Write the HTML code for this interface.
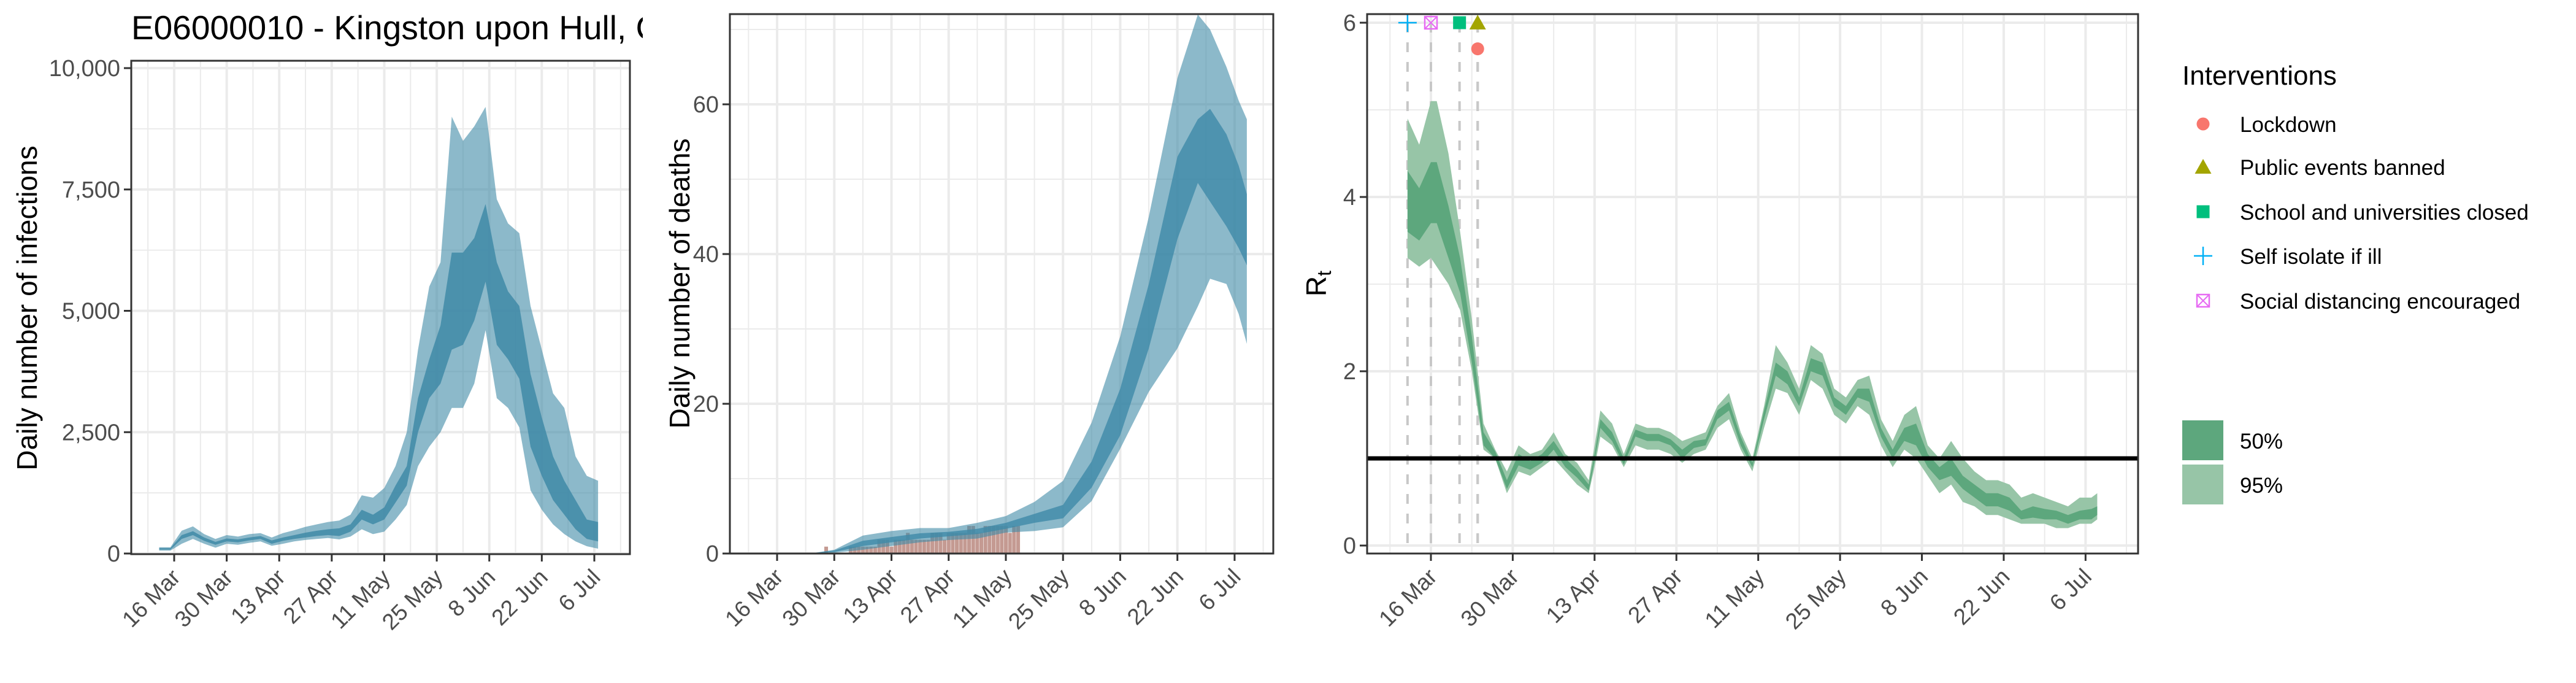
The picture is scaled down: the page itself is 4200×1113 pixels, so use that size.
<!DOCTYPE html>
<html><head><meta charset="utf-8">
<style>
html,body{margin:0;padding:0;background:#fff;}
svg{display:block;font-family:"Liberation Sans",Arial,sans-serif;}
</style></head>
<body>
<svg id="chart" width="4200" height="1113" viewBox="0 0 4200 1113" xmlns="http://www.w3.org/2000/svg">
<rect x="0" y="0" width="4200" height="1113" fill="#fff"/>
<g id="p1"></g>
<g id="p2"></g>
<g id="p3"></g>
<g id="legend"></g>
</svg>
<script>
// ---------- data ----------
var dateTickLabels = ["16 Mar","30 Mar","13 Apr","27 Apr","11 May","25 May","8 Jun","22 Jun","6 Jul"];
var dateTickDays = [0,14,28,42,56,70,84,98,112];

// infections (days from 16 Mar)
var infDays  = [-4,-1,2,5,8,11,14,17,20,23,26,29,32,35,38,41,44,47,50,53,56,59,62,65,68,71,74,77,80,83,86,89,92,95,98,101,104,107,110,113];
var infLo95  = [60,60,200,300,200,120,200,180,220,250,160,200,250,280,300,320,290,350,500,400,450,700,1000,1800,2200,2500,3000,3000,3500,4600,3200,3000,2600,1300,900,600,400,250,150,100];
var infLo50  = [80,80,300,380,260,180,250,230,270,300,200,260,300,330,360,380,360,450,700,600,700,1050,1400,2500,3200,3500,4200,4300,4800,5600,4300,4000,3600,2200,1600,1100,800,500,300,250];
var infHi50  = [110,110,380,460,330,240,310,290,330,360,270,330,380,430,470,500,520,600,900,800,950,1400,1800,3200,4000,4700,6200,6200,6500,7200,6000,5400,5100,3700,2800,2000,1500,1100,700,650];
var infHi95  = [130,130,470,560,400,300,380,350,400,420,330,420,480,550,600,650,680,800,1200,1150,1350,1800,2500,4200,5500,6000,9000,8500,8800,9200,7300,6800,6600,5100,4200,3300,3000,2000,1600,1500];
var infTicks = [0,2500,5000,7500,10000];
var infTickLabels = ["0","2,500","5,000","7,500","10,000"];

// deaths
var dDays  = [8,14,21,28,35,42,49,56,63,70,77,84,91,98,103,106,110,113,115];
var dLo95  = [0,0.1,0.5,1.0,1.5,1.8,2.0,2.8,3.0,3.5,7.0,14,21.6,27.4,33,36.7,36,32,28];
var dLo50  = [0,0.2,1.0,1.5,2.0,2.3,2.6,3.3,4.1,4.7,8.8,15.8,27.4,42,49.5,47,43.7,40.8,38.5];
var dHi50  = [0,0.4,1.7,2.2,2.7,2.9,3.3,4.1,5.3,6.5,12.3,22,36,53,58,59.4,56,51.8,48];
var dHi95  = [0,0.5,2.4,3.0,3.4,3.4,4.1,5.0,6.9,9.7,17.5,29,45,63.5,72,70,65,60.5,58];
var obsDays = [12,18,19,20,21,22,23,24,25,26,27,28,29,30,31,32,33,34,35,36,37,38,39,40,41,42,43,44,45,46,47,48,49,50,51,52,53,54,55,56,57,58,59];
var obsDeaths = [1,1,1,1,1,1,1,1,2,2,2,1,2,2,2,3,2,2,2,2,2,3,3,3,2,3,3,3,3,3,4,4,3,3,4,4,4,4,4,4,3,4,4];
var dTicks = [0,20,40,60];
var dTickLabels = ["0","20","40","60"];

// Rt
var rDays = [-4,-2,0,1,3,5,7,9,11,13,15,17,19,21,23,25,27,28,29,31,33,35,37,39,41,43,45,47,49,51,53,55,57,59,61,63,65,67,69,71,73,75,77,79,81,83,85,87,89,91,93,95,97,99,101,103,105,107,109,111,113,114];
var rLo95 = [3.3,3.2,3.3,3.2,3.0,2.7,2.0,1.1,1.0,0.6,0.85,0.8,0.9,1.0,0.85,0.7,0.6,0.9,1.25,1.15,0.9,1.15,1.1,1.1,1.05,0.95,1.05,1.1,1.35,1.45,1.1,0.85,1.35,1.8,1.75,1.5,1.9,1.8,1.5,1.4,1.6,1.5,1.15,0.9,1.1,1.0,0.8,0.6,0.7,0.5,0.45,0.35,0.35,0.3,0.25,0.25,0.25,0.2,0.2,0.25,0.25,0.3];
var rLo50 = [3.6,3.5,3.7,3.7,3.3,2.9,2.1,1.15,1.0,0.65,0.92,0.87,0.95,1.1,0.9,0.78,0.63,0.97,1.35,1.2,0.93,1.25,1.2,1.2,1.15,1.0,1.12,1.15,1.45,1.55,1.15,0.9,1.45,1.95,1.85,1.6,2.0,1.95,1.6,1.5,1.7,1.65,1.25,1.0,1.2,1.15,0.9,0.75,0.8,0.65,0.55,0.45,0.45,0.4,0.3,0.32,0.3,0.3,0.25,0.3,0.3,0.35];
var rHi50 = [4.3,4.1,4.4,4.4,3.9,3.3,2.4,1.3,1.08,0.75,1.05,0.97,1.05,1.2,1.0,0.87,0.7,1.05,1.45,1.3,1.0,1.33,1.28,1.28,1.22,1.1,1.2,1.22,1.55,1.65,1.25,0.95,1.55,2.1,2.0,1.7,2.15,2.1,1.7,1.6,1.8,1.8,1.35,1.1,1.35,1.4,1.05,0.9,1.0,0.8,0.7,0.6,0.6,0.55,0.4,0.45,0.42,0.4,0.35,0.4,0.42,0.45];
var rHi95 = [4.9,4.6,5.1,5.1,4.5,3.6,2.6,1.4,1.1,0.85,1.15,1.05,1.1,1.3,1.05,0.95,0.75,1.15,1.55,1.4,1.05,1.4,1.35,1.35,1.3,1.2,1.25,1.3,1.6,1.75,1.3,1.0,1.6,2.3,2.1,1.8,2.3,2.2,1.8,1.7,1.9,1.95,1.45,1.2,1.5,1.6,1.15,1.0,1.2,1.0,0.85,0.75,0.75,0.7,0.55,0.6,0.55,0.5,0.45,0.55,0.55,0.6];
var rTicks = [0,2,4,6];
var rTickLabels = ["0","2","4","6"];

// interventions
var intNames = ["Lockdown","Public events banned","School and universities closed","Self isolate if ill","Social distancing encouraged"];
var intDays  = [8,8,4.9,-4,0];
var intValues = [5.7,6,6,6,6];
var intColors = ["#f8766d","#a3a500","#00bf7d","#00b0f6","#e76bf3"];

// ---------- helpers ----------
var NS = "http://www.w3.org/2000/svg";
function mk(tag, attrs, parent){
  var e = document.createElementNS(NS, tag);
  for (var k in attrs) e.setAttribute(k, attrs[k]);
  parent.appendChild(e);
  return e;
}
function band(xs, lo, hi, sx, sy){
  var d = "M" + sx(xs[0]) + "," + sy(hi[0]);
  for (var i=1;i<xs.length;i++) d += "L" + sx(xs[i]) + "," + sy(hi[i]);
  for (var j=xs.length-1;j>=0;j--) d += "L" + sx(xs[j]) + "," + sy(lo[j]);
  return d + "Z";
}

function panel(g, cfg){
  var sx = cfg.sx, sy = cfg.sy;
  // minor grid
  for (var m=0;m<cfg.yMinor.length;m++){
    var yy = sy(cfg.yMinor[m]);
    var l = mk("line",{x1:cfg.x0,x2:cfg.x1,y1:yy,y2:yy,stroke:"#ebebeb","stroke-width":2},g);
    
    
  }
  for (var dd=-7; dd<=119; dd+=14){
    var xm = sx(dd);
    if (xm<=cfg.x0||xm>=cfg.x1) continue;
    var l2 = mk("line",{x1:xm,x2:xm,y1:cfg.y0,y2:cfg.y1,stroke:"#ebebeb","stroke-width":2},g);
    
    
  }
  // major grid
  for (var t=0;t<cfg.yTicks.length;t++){
    var y = sy(cfg.yTicks[t]);
    var gl = mk("line",{x1:cfg.x0,x2:cfg.x1,y1:y,y2:y,stroke:"#ebebeb","stroke-width":4},g);
    
    
  }
  for (var k=0;k<dateTickDays.length;k++){
    var x = sx(dateTickDays[k]);
    var gl2 = mk("line",{x1:x,x2:x,y1:cfg.y0,y2:cfg.y1,stroke:"#ebebeb","stroke-width":4},g);
    
    
  }
  cfg.draw(g);
  // border
  var b = mk("rect",{x:cfg.x0,y:cfg.y0,width:cfg.x1-cfg.x0,height:cfg.y1-cfg.y0,fill:"none",stroke:"#333","stroke-width":3},g);
  
  
  // y ticks
  for (var t2=0;t2<cfg.yTicks.length;t2++){
    var yv = sy(cfg.yTicks[t2]);
    var tk = mk("line",{x1:cfg.x0-12,x2:cfg.x0,y1:yv,y2:yv,stroke:"#333","stroke-width":3},g);
    
    
    var tl = mk("text",{x:cfg.x0-18,y:yv+13,"text-anchor":"end","font-size":38,fill:"#4d4d4d"},g);
    tl.textContent = cfg.yTickLabels[t2];
    
    
  }
  // x ticks
  for (var k2=0;k2<dateTickDays.length;k2++){
    var xv = sx(dateTickDays[k2]);
    var tk2 = mk("line",{x1:xv,x2:xv,y1:cfg.y1,y2:cfg.y1+12,stroke:"#333","stroke-width":3},g);
    
    
    var bx = xv+12, by = cfg.y1+40;
    var xl = mk("text",{x:bx,y:by,"text-anchor":"end","font-size":37,fill:"#4d4d4d",transform:"rotate(-45 "+bx+" "+by+")"},g);
    xl.textContent = dateTickLabels[k2];
    
    
  }
}

// ---------- panel 1: infections ----------
var p1 = document.getElementById("p1");
var sx1 = function(d){ return 284 + 6.116*d; };
var sy1 = function(v){ return 902 - v*0.0791; };
panel(p1, {x0:214,x1:1027,y0:99,y1:903,sx:sx1,sy:sy1,yTicks:infTicks,yTickLabels:infTickLabels,yMinor:[1250,3750,6250,8750],
  draw:function(g){
    var a = mk("path",{d:band(infDays,infLo95,infHi95,sx1,sy1),fill:"rgb(63,138,167)","fill-opacity":0.6},g);
    
    
    var b = mk("path",{d:band(infDays,infLo50,infHi50,sx1,sy1),fill:"rgb(63,138,167)","fill-opacity":0.85},g);
    
    
  }});
var t1 = mk("text",{x:214,y:64,"font-size":55,fill:"#000"},p1);
t1.textContent = "E06000010 - Kingston upon Hull, City of";


var yt1 = mk("text",{x:0,y:0,"text-anchor":"middle","font-size":46,fill:"#000",transform:"translate(60 502) rotate(-90)"},p1);
yt1.textContent = "Daily number of infections";



// ---------- panel 2: deaths ----------
var p2 = document.getElementById("p2");
var bg2 = mk("rect",{x:1048,y:0,width:1100,height:1113,fill:"#fff"},p2);


var sx2 = function(d){ return 1267 + 6.66*d; };
var sy2 = function(v){ return 902 - v*12.2; };
panel(p2, {x0:1190,x1:2076,y0:23,y1:902,sx:sx2,sy:sy2,yTicks:dTicks,yTickLabels:dTickLabels,yMinor:[10,30,50,70],
  draw:function(g){
    for (var i=0;i<obsDays.length;i++){
      var x = sx2(obsDays[i]);
      var r = mk("rect",{x:x-3,y:sy2(obsDeaths[i]*0.92),width:6.1,height:sy2(0)-sy2(obsDeaths[i]*0.92),fill:"#c49a92"},g);
      
      
    }
    var a = mk("path",{d:band(dDays,dLo95,dHi95,sx2,sy2),fill:"rgb(63,138,167)","fill-opacity":0.6},g);
    
    
    var b = mk("path",{d:band(dDays,dLo50,dHi50,sx2,sy2),fill:"rgb(63,138,167)","fill-opacity":0.8},g);
    
    
  }});
var yt2 = mk("text",{x:0,y:0,"text-anchor":"middle","font-size":46,fill:"#000",transform:"translate(1124 462) rotate(-90)"},p2);
yt2.textContent = "Daily number of deaths";



// ---------- panel 3: Rt ----------
var p3 = document.getElementById("p3");
var sx3 = function(d){ return 2333 + 9.53*d; };
var sy3 = function(v){ return 889 - v*142; };
panel(p3, {x0:2229,x1:3486,y0:23,y1:902,sx:sx3,sy:sy3,yTicks:rTicks,yTickLabels:rTickLabels,yMinor:[1,3,5],
  draw:function(g){
    for (var i=0;i<intDays.length;i++){
      var xv = sx3(intDays[i]);
      var vl = mk("line",{x1:xv,x2:xv,y1:sy3(6),y2:sy3(0),stroke:"#c8c8c8","stroke-width":4,"stroke-dasharray":"16,16"},g);
      
      
    }
    var a = mk("path",{d:band(rDays,rLo95,rHi95,sx3,sy3),fill:"#97c5a7"},g);
    
    
    var b = mk("path",{d:band(rDays,rLo50,rHi50,sx3,sy3),fill:"#5da77d"},g);
    
    
    var h = mk("line",{x1:2229,x2:3486,y1:sy3(1),y2:sy3(1),stroke:"#000","stroke-width":7},g);
    
    
    for (var j=0;j<intDays.length;j++){
      var m = marker(g, j, sx3(intDays[j]), sy3(intValues[j]));
      
      
    }
  }});
function marker(parent, j, x, y){
  var g = mk("g",{},parent);
  var c = intColors[j];
  if (j===0) mk("circle",{cx:x,cy:y,r:10.5,fill:c},g);
  else if (j===1) mk("polygon",{points:(x-13.5)+","+(y+11)+" "+(x+13.5)+","+(y+11)+" "+x+","+(y-13)},g).setAttribute("fill",c);
  else if (j===2) mk("rect",{x:x-10.5,y:y-10.5,width:21,height:21,fill:c},g);
  else if (j===3){
    mk("line",{x1:x-15,x2:x+15,y1:y,y2:y,stroke:c,"stroke-width":2.5},g);
    mk("line",{x1:x,x2:x,y1:y-15,y2:y+15,stroke:c,"stroke-width":2.5},g);
  } else {
    mk("rect",{x:x-10,y:y-10,width:20,height:20,fill:"none",stroke:c,"stroke-width":2.5},g);
    mk("line",{x1:x-10,x2:x+10,y1:y-10,y2:y+10,stroke:c,"stroke-width":2},g);
    mk("line",{x1:x-10,x2:x+10,y1:y+10,y2:y-10,stroke:c,"stroke-width":2},g);
  }
  return g;
}
var yt3 = mk("text",{x:0,y:0,"text-anchor":"middle","font-size":46,fill:"#000",transform:"translate(2162 462) rotate(-90)"},p3);


yt3.appendChild(document.createTextNode("R"));
var sub = mk("tspan",{"font-size":32,dy:8},yt3);
sub.textContent = "t";

// ---------- legend ----------
var lg = document.getElementById("legend");
var lt = mk("text",{x:3558,y:138,"font-size":44,fill:"#000"},lg);
lt.textContent = "Interventions";


var legY = [202,272,345,417,490];
for (var i=0;i<intNames.length;i++){
  var eg = mk("g",{},lg);
  
  
  marker(eg, i, 3592, legY[i]);
  var tx = mk("text",{x:3652,y:legY[i]+13,"font-size":35,fill:"#000"},eg);
  tx.textContent = intNames[i];
}
var fillLabels = ["50%","95%"];
var fillCols = ["#5da77d","#97c5a7"];
var fillY = [685,757];
for (var f=0;f<2;f++){
  var fg = mk("g",{},lg);
  
  
  mk("rect",{x:3558,y:fillY[f],width:67,height:65,fill:fillCols[f]},fg);
  var ft = mk("text",{x:3652,y:fillY[f]+46,"font-size":35,fill:"#000"},fg);
  ft.textContent = fillLabels[f];
}
</script>
</body></html>
